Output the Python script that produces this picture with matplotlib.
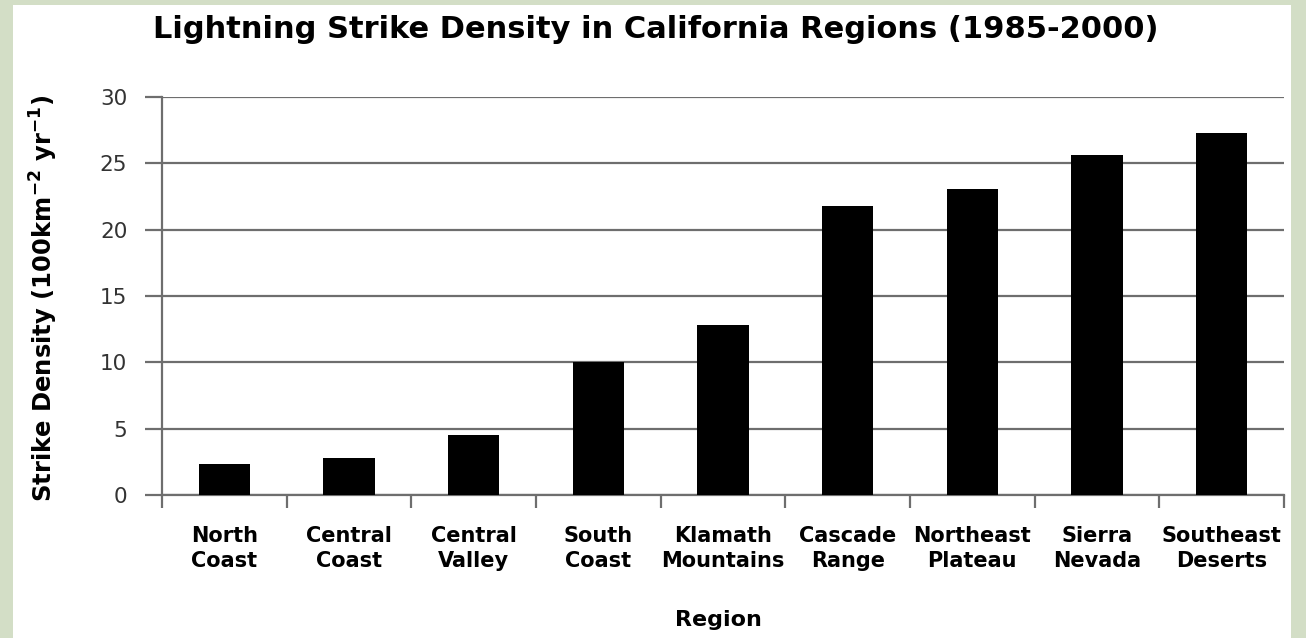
import matplotlib
matplotlib.use("Agg")
import matplotlib.pyplot as plt
from matplotlib.patches import Rectangle

regions = ["North\nCoast", "Central\nCoast", "Central\nValley", "South\nCoast",
           "Klamath\nMountains", "Cascade\nRange", "Northeast\nPlateau",
           "Sierra\nNevada", "Southeast\nDeserts"]
density = [2.3, 2.8, 4.5, 10.0, 12.8, 21.8, 23.1, 25.6, 27.3]
yticks = [0, 5, 10, 15, 20, 25, 30]

plt.rcParams['font.family'] = ['DejaVu Sans']
W, H = 1306, 638
fig = plt.figure(figsize=(W/100, H/100), dpi=100)
fig.patch.set_facecolor('#d3dec6')
bg = Rectangle((13/W, 0), (1291-13)/W, (638-5)/H, transform=fig.transFigure,
               facecolor='white', edgecolor='none', zorder=-10)
fig.add_artist(bg)

ax = fig.add_axes([162/W, 1-495/H, (1284-162)/W, (495-97)/H])
ax.set_zorder(1)
ax.set_facecolor('none')
x = list(range(len(regions)))
ax.bar(x, density, width=0.41, color='black', zorder=3)
ax.set_xlim(-0.5, len(regions)-0.5)
ax.set_ylim(0, 30)
ax.set_yticks(yticks)
ax.set_yticklabels([str(v) for v in yticks], fontsize=15.5, color='#333333')
ax.yaxis.grid(True, color='#6e6e6e', linewidth=1.6)
ax.set_axisbelow(True)
for s in ['top', 'right']:
    ax.spines[s].set_visible(False)
for s in ['left', 'bottom']:
    ax.spines[s].set_color('#6e6e6e')
    ax.spines[s].set_linewidth(1.6)
ax.tick_params(axis='y', length=12, width=1.6, color='#6e6e6e', pad=13)
ax.set_xticks([i - 0.5 for i in range(len(regions)+1)])
ax.set_xticklabels([])
ax.tick_params(axis='x', length=9, width=1.6, color='#6e6e6e', direction='out')
for i, lab in enumerate(regions):
    ax.annotate(lab, xy=(i, 0), xycoords='data', xytext=(0, -(526-495)),
                textcoords='offset pixels', ha='center', va='top', fontsize=15,
                fontweight='bold', linespacing=1.3, annotation_clip=False)
fig.text(718/W, 1-620/H, "Region", ha='center', va='center', fontsize=16, fontweight='bold')
fig.text(44/W, 1-298/H, "Strike Density (100km$^{\\mathbf{-2}}$ yr$^{\\mathbf{-1}}$)",
         ha='center', va='center', rotation=90, fontsize=17.5, fontweight='bold')
fig.text(656/W, 1-30/H, "Lightning Strike Density in California Regions (1985-2000)",
         ha='center', va='center', fontsize=22, fontweight='bold')
fig.savefig("out.png", dpi=100)
